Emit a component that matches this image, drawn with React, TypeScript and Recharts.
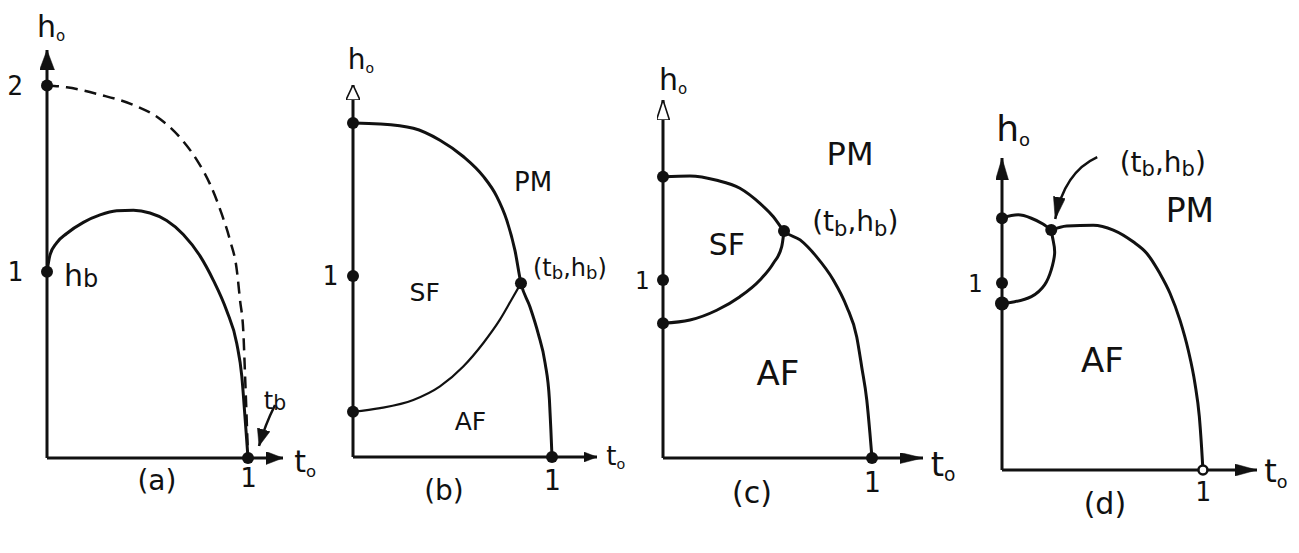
import React from "react";
import { LineChart, Line, XAxis, YAxis, ReferenceDot } from "recharts";

const W = 1299;
const H = 553;
const INK = "#111";
const HAND = "'DejaVu Sans', sans-serif";
const DIGIT = "'DejaVu Sans Mono', monospace";

type Pt = { t: number; h: number };

// (a) boundary for the pure case and the dashed h0 = 2 limit
const aInner: Pt[] = [
  { t: 0, h: 1.0 }, { t: 0.015, h: 1.09 }, { t: 0.048, h: 1.155 }, { t: 0.098, h: 1.205 },
  { t: 0.181, h: 1.265 }, { t: 0.264, h: 1.305 }, { t: 0.347, h: 1.327 }, { t: 0.43, h: 1.33 },
  { t: 0.512, h: 1.315 }, { t: 0.595, h: 1.275 }, { t: 0.678, h: 1.2 }, { t: 0.761, h: 1.085 },
  { t: 0.827, h: 0.955 }, { t: 0.894, h: 0.79 }, { t: 0.944, h: 0.615 }, { t: 0.969, h: 0.44 },
  { t: 0.985, h: 0.22 }, { t: 1, h: 0 },
];
const aOuter: Pt[] = [
  { t: 0, h: 2.0 }, { t: 0.098, h: 1.99 }, { t: 0.264, h: 1.95 }, { t: 0.43, h: 1.895 },
  { t: 0.562, h: 1.82 }, { t: 0.662, h: 1.72 }, { t: 0.745, h: 1.6 }, { t: 0.811, h: 1.47 },
  { t: 0.869, h: 1.31 }, { t: 0.91, h: 1.17 }, { t: 0.944, h: 1.01 }, { t: 0.96, h: 0.85 },
  { t: 0.977, h: 0.67 }, { t: 0.985, h: 0.45 }, { t: 0.993, h: 0.22 }, { t: 1, h: 0 },
];
const aNodes: Pt[] = [{ t: 0, h: 2 }, { t: 0, h: 1 }, { t: 1, h: 0 }];
const aHTicks = [1, 2];

// (b)
const bUpper: Pt[] = [
  { t: 0, h: 1.845 }, { t: 0.136, h: 1.84 }, { t: 0.303, h: 1.816 }, { t: 0.437, h: 1.75 },
  { t: 0.554, h: 1.66 }, { t: 0.655, h: 1.55 }, { t: 0.722, h: 1.44 }, { t: 0.772, h: 1.31 },
  { t: 0.814, h: 1.14 }, { t: 0.844, h: 0.96 }, { t: 0.889, h: 0.83 }, { t: 0.931, h: 0.68 },
  { t: 0.965, h: 0.52 }, { t: 0.987, h: 0.315 }, { t: 0.995, h: 0.13 }, { t: 1, h: 0 },
];
const bLower: Pt[] = [
  { t: 0, h: 0.25 }, { t: 0.136, h: 0.27 }, { t: 0.303, h: 0.315 }, { t: 0.437, h: 0.39 },
  { t: 0.554, h: 0.5 }, { t: 0.655, h: 0.63 }, { t: 0.739, h: 0.76 }, { t: 0.797, h: 0.87 },
  { t: 0.844, h: 0.96 },
];
const bNodes: Pt[] = [
  { t: 0, h: 1.845 }, { t: 0, h: 1 }, { t: 0, h: 0.25 }, { t: 0.844, h: 0.96 }, { t: 1, h: 0 },
];

// (c)
const cUpper: Pt[] = [
  { t: 0, h: 1.58 }, { t: 0.129, h: 1.584 }, { t: 0.257, h: 1.56 }, { t: 0.368, h: 1.515 },
  { t: 0.464, h: 1.43 }, { t: 0.528, h: 1.355 }, { t: 0.579, h: 1.275 }, { t: 0.656, h: 1.225 },
  { t: 0.735, h: 1.13 }, { t: 0.815, h: 1.0 }, { t: 0.879, h: 0.85 }, { t: 0.927, h: 0.68 },
  { t: 0.951, h: 0.51 }, { t: 0.975, h: 0.326 }, { t: 0.99, h: 0.14 }, { t: 1, h: 0 },
];
const cLower: Pt[] = [
  { t: 0, h: 0.757 }, { t: 0.129, h: 0.775 }, { t: 0.257, h: 0.83 }, { t: 0.368, h: 0.906 },
  { t: 0.464, h: 1.0 }, { t: 0.528, h: 1.094 }, { t: 0.568, h: 1.187 }, { t: 0.579, h: 1.275 },
];
const cNodes: Pt[] = [
  { t: 0, h: 1.58 }, { t: 0, h: 1 }, { t: 0, h: 0.757 }, { t: 0.579, h: 1.275 }, { t: 1, h: 0 },
];

// (d)
const dTop: Pt[] = [
  { t: 0, h: 1.346 }, { t: 0.08, h: 1.364 }, { t: 0.146, h: 1.346 }, { t: 0.204, h: 1.315 },
  { t: 0.245, h: 1.283 },
];
const dLoop: Pt[] = [
  { t: 0, h: 0.89 }, { t: 0.063, h: 0.9 }, { t: 0.146, h: 0.927 }, { t: 0.212, h: 0.99 },
  { t: 0.245, h: 1.07 }, { t: 0.262, h: 1.16 }, { t: 0.254, h: 1.23 }, { t: 0.245, h: 1.283 },
];
const dMain: Pt[] = [
  { t: 0.245, h: 1.283 }, { t: 0.322, h: 1.305 }, { t: 0.454, h: 1.309 }, { t: 0.554, h: 1.283 },
  { t: 0.653, h: 1.22 }, { t: 0.72, h: 1.159 }, { t: 0.786, h: 1.05 }, { t: 0.836, h: 0.945 },
  { t: 0.886, h: 0.8 }, { t: 0.927, h: 0.64 }, { t: 0.96, h: 0.464 }, { t: 0.982, h: 0.285 },
  { t: 0.993, h: 0.125 }, { t: 1, h: 0 },
];
const dNodes: Pt[] = [{ t: 0, h: 1.346 }, { t: 0, h: 1 }, { t: 0.245, h: 1.283 }];

const hTicks = [1];
const tTicks = [1];

// "h_o" -> h with a lowered small o
function runsOf(s: string) {
  const out: { s: string; sub: boolean }[] = [];
  for (let i = 0; i < s.length; i++) {
    if (s[i] === "_") {
      out.push({ s: s[i + 1], sub: true });
      i++;
    } else if (out.length && !out[out.length - 1].sub) {
      out[out.length - 1].s += s[i];
    } else {
      out.push({ s: s[i], sub: false });
    }
  }
  return out;
}

const hand = (text: string, size: number, sub = 0.62, drop = 0.16) => (p: any) => {
  const runs = runsOf(text);
  let low = false;
  return (
    <text
      x={p.cx}
      y={p.cy + size * 0.36}
      textAnchor="middle"
      fontFamily={HAND}
      fontSize={size}
      fill={INK}
    >
      {runs.map((r, i) => {
        const dy = r.sub && !low ? size * drop : !r.sub && low ? -size * drop : 0;
        low = r.sub;
        return (
          <tspan key={i} dy={dy} fontSize={r.sub ? size * sub : size}>
            {r.s}
          </tspan>
        );
      })}
    </text>
  );
};

function Arrow({ id, len, wid, hollow }: { id: string; len: number; wid: number; hollow?: boolean }) {
  return (
    <marker
      id={id}
      viewBox={`0 0 ${len} ${wid}`}
      refX={len}
      refY={wid / 2}
      markerWidth={len}
      markerHeight={wid}
      markerUnits="userSpaceOnUse"
      orient="auto-start-reverse"
    >
      <path
        d={`M0,0 L${len},${wid / 2} L0,${wid} Z`}
        fill={hollow ? "#fff" : INK}
        stroke={INK}
        strokeWidth={hollow ? 1.6 : 0.5}
      />
    </marker>
  );
}

function Panel(props: {
  id: string;
  axisX: number;
  tipX: number;
  tipY: number;
  originY: number;
  tMax: number;
  hMax: number;
  hTickValues: number[];
  hTickDx: number;
  hTickSize: number;
  tTickDy: number;
  tTickSize: number;
  yArrow: [number, number, boolean];
  xArrow: [number, number];
  children: React.ReactNode;
}) {
  const { id, axisX, tipX, tipY, originY, tMax, hMax } = props;
  // axes get a 1px band so they still render; the plot edge sits on axisX / originY
  return (
    <div style={{ position: "absolute", left: 0, top: 0 }}>
      <LineChart
        width={W}
        height={H}
        margin={{ left: axisX - 1, right: W - tipX, top: tipY, bottom: H - originY - 1 }}
      >
        <defs>
          <Arrow id={`${id}-y`} len={props.yArrow[0]} wid={props.yArrow[1]} hollow={props.yArrow[2]} />
          <Arrow id={`${id}-x`} len={props.xArrow[0]} wid={props.xArrow[1]} />
        </defs>
        <XAxis
          type="number"
          dataKey="t"
          domain={[0, tMax]}
          allowDataOverflow
          ticks={tTicks}
          interval={0}
          height={1}
          tickLine={false}
          tickSize={0}
          tickMargin={0}
          axisLine={{ stroke: INK, strokeWidth: 3, markerEnd: `url(#${id}-x)` }}
          tick={(p: any) => (
            <text
              x={p.x}
              y={originY + props.tTickDy + props.tTickSize * 0.36}
              textAnchor="middle"
              fontFamily={DIGIT}
              fontSize={props.tTickSize}
              fill={INK}
            >
              {p.payload.value}
            </text>
          )}
        />
        <YAxis
          type="number"
          dataKey="h"
          domain={[0, hMax]}
          allowDataOverflow
          ticks={props.hTickValues}
          interval={0}
          width={1}
          tickLine={false}
          tickSize={0}
          tickMargin={0}
          axisLine={{ stroke: INK, strokeWidth: 3, markerStart: `url(#${id}-y)` }}
          tick={(p: any) => (
            <text
              x={axisX + props.hTickDx}
              y={p.y + props.hTickSize * 0.36}
              textAnchor="middle"
              fontFamily={DIGIT}
              fontSize={props.hTickSize}
              fill={INK}
            >
              {p.payload.value}
            </text>
          )}
        />
        {props.children}
      </LineChart>
    </div>
  );
}

const curve = (data: Pt[], key: string, extra: any = {}) => (
  <Line
    key={key}
    data={data}
    dataKey="h"
    type="monotone"
    stroke={INK}
    strokeWidth={3}
    dot={false}
    activeDot={false}
    isAnimationActive={false}
    {...extra}
  />
);

const nodes = (pts: Pt[], prefix: string, r = 6) =>
  pts.map((p, i) => (
    <ReferenceDot
      key={`${prefix}${i}`}
      x={p.t}
      y={p.h}
      r={r}
      fill={INK}
      stroke="none"
      ifOverflow="visible"
    />
  ));

const text = (key: string, t: number, h: number, s: string, size: number, sub?: number, drop?: number) => (
  <ReferenceDot key={key} x={t} y={h} r={1} ifOverflow="visible" shape={hand(s, size, sub, drop)} />
);

export default function App() {
  return (
    <div style={{ position: "absolute", left: 0, top: 0, width: W, height: H, background: "#fff" }}>
      <Panel
        id="pa"
        axisX={47}
        tipX={283}
        tipY={50}
        originY={458}
        tMax={1.174}
        hMax={2.19}
        hTickValues={aHTicks}
        hTickDx={-32}
        hTickSize={26}
        tTickDy={19}
        tTickSize={27}
        yArrow={[20, 15, false]}
        xArrow={[17, 13]}
      >
        {curve(aOuter, "ao", { strokeWidth: 2.5, strokeDasharray: "12 7" })}
        {curve(aInner, "ai")}
        {nodes(aNodes, "an")}
        {text("a0", 0.02, 2.32, "h_o", 30, 0.5)}
        {text("a1", 0.17, 0.98, "h_b", 30, 0.8, 0.04)}
        {text("a2", 1.134, 0.31, "t_b", 24, 0.85, 0.06)}
        {text("a3", 1.284, -0.016, "t_o", 30, 0.55)}
        {text("a4", 0.547, -0.12, "(a)", 28)}
        <ReferenceDot
          x={1}
          y={0}
          r={1}
          ifOverflow="visible"
          shape={(p: any) => (
            <path
              d={`M${p.cx + 27},${p.cy - 53} Q${p.cx + 17},${p.cy - 33} ${p.cx + 11},${p.cy - 12}`}
              fill="none"
              stroke={INK}
              strokeWidth={2.5}
              markerEnd="url(#pa-x)"
            />
          )}
        />
      </Panel>

      <Panel
        id="pb"
        axisX={353}
        tipX={597}
        tipY={85}
        originY={457}
        tMax={1.226}
        hMax={2.055}
        hTickValues={hTicks}
        hTickDx={-23}
        hTickSize={26}
        tTickDy={23}
        tTickSize={28}
        yArrow={[15, 14, true]}
        xArrow={[13, 10]}
      >
        {curve(bUpper, "bu")}
        {curve(bLower, "bl", { strokeWidth: 2.2 })}
        {nodes(bNodes, "bn")}
        {text("b0", 0.04, 2.2, "h_o", 28, 0.5)}
        {text("b1", 0.905, 1.52, "PM", 26)}
        {text("b2", 1.09, 1.05, "(t_b,h_b)", 24, 0.75)}
        {text("b3", 0.36, 0.91, "SF", 25)}
        {text("b4", 0.59, 0.2, "AF", 25)}
        {text("b5", 1.32, 0.01, "t_o", 26, 0.55)}
        {text("b6", 0.457, -0.18, "(b)", 28)}
      </Panel>

      <Panel
        id="pc"
        axisX={663}
        tipX={923}
        tipY={100}
        originY={458}
        tMax={1.244}
        hMax={2.011}
        hTickValues={hTicks}
        hTickDx={-21}
        hTickSize={24}
        tTickDy={24}
        tTickSize={28}
        yArrow={[20, 13, true]}
        xArrow={[23, 11]}
      >
        {curve(cUpper, "cu")}
        {curve(cLower, "cl")}
        {nodes(cNodes, "cn")}
        {text("c0", 0.048, 2.13, "h_o", 30, 0.5)}
        {text("c1", 0.895, 1.71, "PM", 32)}
        {text("c2", 0.92, 1.33, "(t_b,h_b)", 28, 0.75)}
        {text("c3", 0.306, 1.2, "SF", 30)}
        {text("c4", 0.55, 0.48, "AF", 34)}
        {text("c5", 1.34, -0.03, "t_o", 34, 0.55)}
        {text("c6", 0.426, -0.19, "(c)", 30)}
      </Panel>

      <Panel
        id="pd"
        axisX={1002}
        tipX={1257}
        tipY={158}
        originY={470}
        tMax={1.269}
        hMax={1.668}
        hTickValues={hTicks}
        hTickDx={-27}
        hTickSize={24}
        tTickDy={22}
        tTickSize={26}
        yArrow={[22, 13, false]}
        xArrow={[22, 12]}
      >
        {curve(dTop, "dt")}
        {curve(dLoop, "dl", { type: "natural" })}
        {curve(dMain, "dm")}
        {nodes(dNodes, "dn")}
        <ReferenceDot x={0} y={0.89} r={7} fill={INK} stroke="none" ifOverflow="visible" />
        <ReferenceDot x={1} y={0} r={4.5} fill="#fff" stroke={INK} strokeWidth={2.5} ifOverflow="visible" />
        {text("d0", 0.055, 1.83, "h_o", 36, 0.5)}
        {text("d1", 0.8, 1.647, "(t_b,h_b)", 28, 0.75)}
        {text("d2", 0.935, 1.39, "PM", 33)}
        {text("d3", 0.5, 0.59, "AF", 34)}
        {text("d4", 1.363, -0.005, "t_o", 32, 0.55)}
        {text("d5", 0.512, -0.18, "(d)", 30)}
        <ReferenceDot
          x={0.245}
          y={1.283}
          r={1}
          ifOverflow="visible"
          shape={(p: any) => (
            <path
              d={`M${p.cx + 46},${p.cy - 73} Q${p.cx + 13},${p.cy - 58} ${p.cx + 4},${p.cy - 11}`}
              fill="none"
              stroke={INK}
              strokeWidth={2.5}
              markerEnd="url(#pd-x)"
            />
          )}
        />
      </Panel>
    </div>
  );
}
